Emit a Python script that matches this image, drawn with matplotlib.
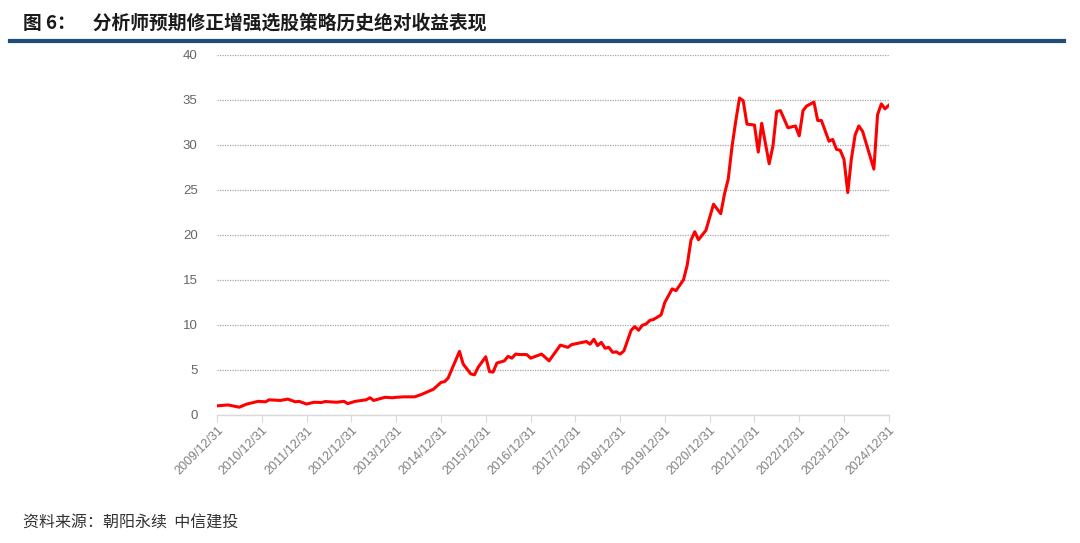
import matplotlib
matplotlib.use("Agg")
import matplotlib.pyplot as plt
import pandas as pd

plt.rcParams['font.family'] = ['Noto Sans CJK SC', 'DejaVu Sans']

# month-end dates and absolute return
months = [
    "2009-12", "2010-03", "2010-06", "2010-08", "2010-10", "2010-11", "2011-01", "2011-02",
    "2011-05", "2011-07", "2011-09", "2011-10", "2011-12", "2012-02", "2012-04", "2012-05",
    "2012-08", "2012-10", "2012-11", "2013-01", "2013-04", "2013-05", "2013-06", "2013-09",
    "2013-11", "2013-12", "2014-02", "2014-05", "2014-07", "2014-10", "2014-12", "2015-01",
    "2015-02", "2015-03", "2015-05", "2015-06", "2015-08", "2015-09", "2015-10", "2015-12",
    "2016-01", "2016-02", "2016-03", "2016-05", "2016-06", "2016-07", "2016-08", "2016-09",
    "2016-11", "2016-12", "2017-03", "2017-05", "2017-08", "2017-10", "2017-11", "2018-03",
    "2018-04", "2018-05", "2018-06", "2018-07", "2018-08", "2018-09", "2018-10", "2018-11",
    "2018-12", "2019-01", "2019-03", "2019-04", "2019-05", "2019-06", "2019-07", "2019-08",
    "2019-09", "2019-11", "2019-12", "2020-02", "2020-03", "2020-05", "2020-06", "2020-07",
    "2020-08", "2020-09", "2020-11", "2021-01", "2021-03", "2021-04", "2021-05", "2021-06",
    "2021-07", "2021-08", "2021-09", "2021-10", "2021-12", "2022-01", "2022-02", "2022-04",
    "2022-05", "2022-06", "2022-07", "2022-09", "2022-11", "2022-12", "2023-01", "2023-02",
    "2023-04", "2023-05", "2023-06", "2023-08", "2023-09", "2023-10", "2023-11", "2023-12",
    "2024-01", "2024-02", "2024-03", "2024-04", "2024-05", "2024-08", "2024-09", "2024-10",
    "2024-11", "2024-12",
]
returns = [
    1.0, 1.1, 0.85, 1.2, 1.4, 1.5, 1.45, 1.67,
    1.6, 1.75, 1.45, 1.5, 1.2, 1.4, 1.37, 1.48,
    1.4, 1.5, 1.25, 1.5, 1.67, 1.9, 1.6, 1.95,
    1.9, 1.95, 2.0, 2.0, 2.3, 2.85, 3.6, 3.7,
    4.1, 5.1, 7.05, 5.65, 4.55, 4.45, 5.3, 6.45,
    4.8, 4.75, 5.75, 6.0, 6.5, 6.3, 6.75, 6.7,
    6.7, 6.3, 6.75, 6.0, 7.75, 7.5, 7.8, 8.15,
    7.85, 8.4, 7.7, 8.05, 7.4, 7.5, 6.95, 7.0,
    6.75, 7.1, 9.4, 9.8, 9.4, 9.95, 10.1, 10.5,
    10.6, 11.1, 12.5, 14.0, 13.8, 15.0, 16.6, 19.4,
    20.35, 19.45, 20.5, 23.4, 22.35, 24.5, 26.2, 29.7,
    32.6, 35.2, 34.9, 32.3, 32.2, 29.2, 32.4, 27.9,
    29.9, 33.7, 33.8, 31.9, 32.1, 31.0, 33.8, 34.3,
    34.75, 32.7, 32.7, 30.4, 30.6, 29.5, 29.4, 28.4,
    24.7, 28.4, 31.1, 32.1, 31.5, 27.3, 33.35, 34.55,
    34.0, 34.4,
]
tick_labels = ["%d/12/31" % y for y in range(2009, 2025)]

dates = pd.to_datetime(months) + pd.offsets.MonthEnd(0)
tick_dates = pd.to_datetime(["%d-12-31" % y for y in range(2009, 2025)])

fig = plt.figure(figsize=(10.8, 5.43), dpi=100)
ax = fig.add_axes([0.201, 0.236, 0.622, 0.663])

ax.plot(dates, returns, color="#ff0000", lw=2.2, solid_joinstyle="round")

ax.set_ylim(0, 40)
ax.set_yticks(range(0, 41, 5))
ax.set_xlim(tick_dates[0], tick_dates[-1])
ax.set_xticks(tick_dates)
ax.set_xticklabels(tick_labels, rotation=45, ha="right", rotation_mode="anchor")
for lab in ax.get_xticklabels() + ax.get_yticklabels():
    lab.set_family("Liberation Sans")

ax.grid(axis="y", color="#a6a6a6", linestyle=(0, (1, 1)), lw=0.9)
ax.set_axisbelow(True)
for s in ["top", "right", "left"]:
    ax.spines[s].set_visible(False)
ax.spines["bottom"].set_color("#d9d9d9")
ax.spines["bottom"].set_linewidth(1.0)
ax.tick_params(axis="y", length=0, pad=14, labelsize=9.5, labelcolor="#666666")
ax.tick_params(axis="x", length=5, color="#d9d9d9", pad=2, labelsize=9, labelcolor="#7f7f7f")

# title + rule
fig.text(0.021, 0.958, "图 6：    分析师预期修正增强选股策略历史绝对收益表现",
         fontsize=13.5, fontweight="bold", color="#1a1a1a", va="center", ha="left")
fig.add_artist(plt.Line2D([0.009, 0.985], [0.924, 0.924], color="#1f4e79", lw=3))

fig.text(0.021, 0.036, "资料来源：朝阳永续  中信建投", fontsize=11.5, color="#333333",
         va="center", ha="left")

fig.savefig("out.png", dpi=100)
